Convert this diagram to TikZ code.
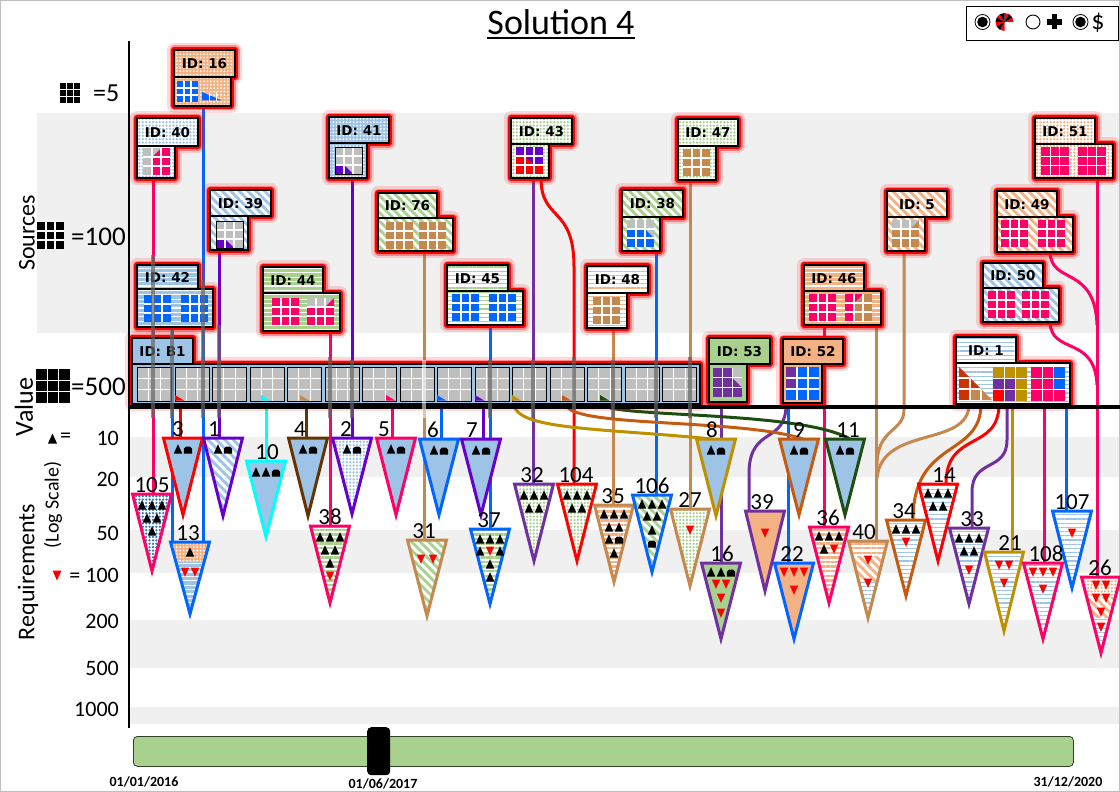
\documentclass[tikz,border=0pt]{standalone}
\usepackage{fontspec}
\setmainfont{Carlito}
\newfontfamily\idfont{DejaVu Sans}
\usetikzlibrary{patterns.meta}
\definecolor{cLB}{HTML}{9DC3E6}
\definecolor{cDB}{HTML}{2E75B6}
\definecolor{cBlue}{HTML}{0066FF}
\definecolor{cPink}{HTML}{FF0066}
\definecolor{cRed}{HTML}{FF0000}
\definecolor{cPurp}{HTML}{6600CC}
\definecolor{cPurp2}{HTML}{7030A0}
\definecolor{cCyan}{HTML}{00FFFF}
\definecolor{cBrD}{HTML}{663300}
\definecolor{cTan}{HTML}{C5884F}
\definecolor{cOlive}{HTML}{BF9000}
\definecolor{cOR}{HTML}{C55A11}
\definecolor{cOR2}{HTML}{CC3300}
\definecolor{cDG}{HTML}{1E4E0F}
\definecolor{cGr}{HTML}{A9D18E}
\definecolor{cOr}{HTML}{F4B183}
\definecolor{cGray}{HTML}{BFBFBF}
\definecolor{cBand}{HTML}{F0F0F0}
\newcommand\fs[1]{\fontsize{#1}{#1}\selectfont}
% grid helpers: x y size [col row] color
\newcommand\gbase[4]{\fill[#4] (#1,#2) rectangle ++(#3,#3);}
\newcommand\glines[3]{\draw[white,line width=1.1pt] ({#1+#3/3},#2) -- ++(0,#3) ({#1+2*#3/3},#2) -- ++(0,#3) (#1,{#2+#3/3}) -- ++(#3,0) (#1,{#2+2*#3/3}) -- ++(#3,0);}
\newcommand\gcell[6]{\fill[#6] ({#1+#4*#3/3},{#2+#5*#3/3}) rectangle ++({#3/3},{#3/3});}
\newcommand\gLL[6]{\fill[#6] ({#1+#4*#3/3},{#2+#5*#3/3}) -- ({#1+#4*#3/3},{#2+(#5+1)*#3/3}) -- ({#1+(#4+1)*#3/3},{#2+(#5+1)*#3/3}) -- cycle;}
\newcommand\gUR[6]{\fill[#6] ({#1+#4*#3/3},{#2+#5*#3/3}) -- ({#1+(#4+1)*#3/3},{#2+#5*#3/3}) -- ({#1+(#4+1)*#3/3},{#2+(#5+1)*#3/3}) -- cycle;}
\newcommand\gUL[6]{\fill[#6] ({#1+#4*#3/3},{#2+#5*#3/3}) -- ({#1+(#4+1)*#3/3},{#2+#5*#3/3}) -- ({#1+#4*#3/3},{#2+(#5+1)*#3/3}) -- cycle;}
\newcommand\gLR[6]{\fill[#6] ({#1+(#4+1)*#3/3},{#2+#5*#3/3}) -- ({#1+(#4+1)*#3/3},{#2+(#5+1)*#3/3}) -- ({#1+#4*#3/3},{#2+(#5+1)*#3/3}) -- cycle;}
\newcommand\ggrid[4]{\gbase{#1}{#2}{#3}{#4}\glines{#1}{#2}{#3}}
% source box: name x y tabw tabh contw conth fill label
\newcommand\src[9]{%
 \path[glow] (#2,#3) rectangle ++(#4,#5) (#2,{#3+#5}) rectangle ++(#6,#7);
 \path[#8] (#2,{#3+#5}) rectangle ++(#6,#7);
 \draw[line width=1.1pt] (#2,{#3+#5}) rectangle ++(#6,#7);
 \path[#8] (#2,#3) rectangle ++(#4,#5);
 \draw[line width=1.1pt] (#2,#3) rectangle ++(#4,#5);
 \node[idl] (#1) at ({#2+#4/2},{#3+#5/2+0.5}) {ID: #9};}
% requirement triangle: cx top apex border fill
\newcommand\req[5]{%
 \path[#5] ({#1-19.5},#2) -- ({#1+19.5},#2) -- (#1,{#3-4}) -- cycle;
 \draw[#4,line width=3pt,line join=miter] ({#1-19.5},#2) -- ({#1+19.5},#2) -- (#1,{#3-4}) -- cycle;
 \def\cx{#1}\def\ty{#2}}
\newcommand\mU[2]{\fill[black] ({\cx+#1-4.2},{\ty+#2+4.5}) -- ({\cx+#1+4.2},{\ty+#2+4.5}) -- ({\cx+#1},{\ty+#2-4.8}) -- cycle;}
\newcommand\mD[2]{\fill[cRed] ({\cx+#1-4.2},{\ty+#2-4.5}) -- ({\cx+#1+4.2},{\ty+#2-4.5}) -- ({\cx+#1},{\ty+#2+4.8}) -- cycle;}
\newcommand\mH[2]{\fill[black] ({\cx+#1-4.2},{\ty+#2+4.5}) -- ({\cx+#1-4.2},{\ty+#2}) -- ({\cx+#1-2},{\ty+#2-2.5}) -- ({\cx+#1+2},{\ty+#2-2.5}) -- ({\cx+#1+4.2},{\ty+#2}) -- ({\cx+#1+4.2},{\ty+#2+4.5}) -- cycle;}
\newcommand\UUU[1]{\mU{-10}{#1}\mU{0}{#1}\mU{10}{#1}}
\newcommand\UU[1]{\mU{-5}{#1}\mU{5}{#1}}
\newcommand\UH[1]{\mU{-5}{#1}\mH{5}{#1}}
\newcommand\DDD[1]{\mD{-10}{#1}\mD{0}{#1}\mD{10}{#1}}
\newcommand\DD[1]{\mD{-5}{#1}\mD{5}{#1}}
\newcommand\lab[4]{\node[numl] (#1) at (#2,{#3-1.5}) {#4};}
\tikzset{
  glow/.style={preaction={draw=red,line width=14pt,opacity=.15,line join=round},preaction={draw=red,line width=9pt,opacity=.35,line join=round},preaction={draw=red,line width=5.5pt,line join=round}},
  pdots/.style={fill=#1,postaction={pattern={Dots[radius=1pt,distance=3.4pt]},pattern color=white}},
  pdotsW/.style={fill=white,postaction={pattern={Dots[radius=1.25pt,distance=3.4pt]},pattern color=#1}},
  pdiag/.style={fill=white,postaction={pattern={Lines[angle=-45,distance=6pt,line width=2.8pt]},pattern color=#1}},
  phz/.style={fill=white,postaction={pattern={Lines[angle=0,distance=4.6pt,line width=2.3pt]},pattern color=#1}},
  phzA/.style={fill=#1,postaction={pattern={Lines[angle=0,distance=4.4pt,line width=1.1pt]},pattern color=white}},
  phzB/.style={fill=white,postaction={pattern={Lines[angle=0,distance=4.2pt,line width=1.2pt]},pattern color=#1}},
  cn/.style={line width=3pt},
  gbar/.style={line width=4.5pt,draw=black!60,opacity=.7},
  idl/.style={font=\idfont\bfseries\fs{13.5},inner sep=0},
  numl/.style={font=\fs{23},inner sep=0,anchor=base},
  ax/.style={font=\fs{22},inner sep=0},
}
\begin{document}
\begin{tikzpicture}[x=1pt,y=-1pt]
\useasboundingbox (0,0) rectangle (1120,792);
\fill[white] (0,0) rectangle (1120,792);
\fill[cBand] (37,113) rectangle (1120,333);
\foreach \a/\b in {437/477,530/573,620/668,707/724} \fill[cBand] (130,\a) rectangle (1120,\b);
\draw[black!25,line width=1pt] (0.5,0.5) rectangle (1119.5,791.5);

% title and legend
\node[font=\fs{36},inner sep=0] (title) at (561,22) {Solution 4};
\draw[line width=1.8pt] ([yshift=-4pt]title.base west) -- ([yshift=-4pt]title.base east);
\node[draw,line width=1.2pt,minimum width=152,minimum height=34,anchor=north west,inner sep=0] (legend) at (966,6) {};
\draw[line width=.8pt] (982.5,22) circle (7.5); \fill (982.5,22) circle (5.3);
\begin{scope}[shift={(1004.5,22)},yscale=-1]
\foreach \a in {0,60,...,240} \fill[red] (0,0) -- (\a:9) arc[start angle=\a,end angle=\a+30,radius=9] -- cycle;
\foreach \a in {30,90,...,210} \fill[black] (0,0) -- (\a:9) arc[start angle=\a,end angle=\a+30,radius=9] -- cycle;
\end{scope}
\draw[line width=.9pt] (1033,22) circle (7);
\fill (1047,19.3) rectangle (1062,24.7); \fill (1051.8,14.5) rectangle (1057.2,29.5);
\draw[line width=.8pt] (1080.5,22) circle (7.5); \fill (1080.5,22) circle (5.3);
\node[font=\fs{26},inner sep=0] (dollar) at (1098,23) {\$};

% left side labels
\node[rotate=90,font=\fs{24}] (lsrc) at (27,233) {Sources};
\node[rotate=90,font=\fs{26}] (lval) at (24,407) {Value};
\node[rotate=90,font=\fs{24}] (lreq) at (28,572) {Requirements};
\node[rotate=90,font=\fs{20}] (llog) at (53,505) {(Log Scale)};
\ggrid{60}{83}{20}{black}
\node[font=\fs{26},anchor=west,inner sep=0] (l5) at (93,93) {=5};
\ggrid{37}{222}{27}{black}
\node[font=\fs{27},anchor=west,inner sep=0] (l100) at (71,237) {=100};
\ggrid{36}{369}{34}{black}
\node[font=\fs{27},anchor=west,inner sep=0] (l500) at (71,387) {=500};
\fill (48,443.5) -- (57,443.5) -- (52.5,433.5) -- cycle;
\node[ax,anchor=west] (leq) at (60,438) {=};
\node[ax,anchor=east] (k10) at (119,438) {10};
\node[ax,anchor=east] (k20) at (119,479) {20};
\node[ax,anchor=east] (k50) at (119,533) {50};
\fill[cRed] (52.5,570.5) -- (61.5,570.5) -- (57,580.5) -- cycle;
\node[ax,anchor=east] (k100) at (119,575) {= 100};
\node[ax,anchor=east] (k200) at (119,621) {200};
\node[ax,anchor=east] (k500) at (119,668) {500};
\node[ax,anchor=east] (k1000) at (119,709) {1000};

% coordinates of requirement tops
\coordinate (t105) at (152,494); \coordinate (t3) at (183,438); \coordinate (t13) at (190,542);
\coordinate (t1) at (223,438); \coordinate (t10) at (266,461); \coordinate (t4) at (308,438);
\coordinate (t2) at (352,438); \coordinate (t5) at (396,438); \coordinate (t38) at (330,526);
\coordinate (t6) at (439,439); \coordinate (t7) at (481,439); \coordinate (t31) at (427,540);
\coordinate (t37) at (490,529); \coordinate (t32) at (534,484); \coordinate (t104) at (577,484);
\coordinate (t35) at (614,505); \coordinate (t106) at (652,495); \coordinate (t27) at (690,509);
\coordinate (t8) at (712,439); \coordinate (t16) at (721,563); \coordinate (t39) at (749,511);
\coordinate (t9) at (803,439); \coordinate (t11) at (850,439); \coordinate (t22) at (794,563);
\coordinate (t36) at (829,527); \coordinate (t40) at (868,541); \coordinate (t34) at (913,520);
\coordinate (t14) at (946,484); \coordinate (t33) at (972,528); \coordinate (t21) at (1004,552);
\coordinate (t108) at (1043,563); \coordinate (t107) at (1072,511); \coordinate (t26) at (1101,577);
% source outputs
\coordinate (o40) at (153,178); \coordinate (o42) at (172,327); \coordinate (o16) at (203,106);
\coordinate (o39) at (219,250); \coordinate (o41) at (352,178); \coordinate (o44) at (330,331);
\coordinate (o76) at (424,251); \coordinate (o45) at (490,325); \coordinate (o43a) at (533,178);
\coordinate (o43b) at (541,178); \coordinate (k104) at (574,267); \coordinate (o48) at (613,328);
\coordinate (o38) at (656,251); \coordinate (o47) at (690,180); \coordinate (o53) at (721,402);
\coordinate (o52a) at (788,403); \coordinate (o52b) at (786,403); \coordinate (o46a) at (824,325);
\coordinate (o46b) at (876,325); \coordinate (o5) at (904,251); \coordinate (k5) at (904,410);
\coordinate (m40) at (877,465); \coordinate (m40b) at (877,478);
\coordinate (o1a) at (969,404); \coordinate (o1b) at (981,404); \coordinate (o1c) at (999,404);
\coordinate (o1d) at (1007,404); \coordinate (o1e) at (1012,404); \coordinate (o1f) at (1044,404);
\coordinate (o1g) at (1066,404); \coordinate (o51) at (1097,178); \coordinate (o49) at (1050,252);
\coordinate (o50) at (1050,322); \coordinate (j49) at (1097,325); \coordinate (j50) at (1097,385);
\coordinate (b3) at (180,404); \coordinate (b10) at (266,404); \coordinate (b4) at (306,404);
\coordinate (b5) at (392,404); \coordinate (b6) at (441,404); \coordinate (b7) at (483,404);
\coordinate (b8) at (514,404); \coordinate (b9) at (566,404); \coordinate (b11) at (603,404);

% connectors
\draw[cn,cPink] (o40) -- (o40 |- t105);
\draw[cn,cBlue] (o42) -- (o42 |- t13);
\draw[cn,cBlue] (o16) -- (o16 |- t13);
\draw[cn,cPurp] (o39) -- (o39 |- t1);
\draw[cn,cPurp] (o41) -- (o41 |- t2);
\draw[cn,cPink] (o44) -- (o44 |- t38);
\draw[cn,cTan] (o76) -- (o76 |- t31);
\draw[cn,cBlue] (o45) -- (o45 |- t37);
\draw[cn,cPurp2] (o43a) -- (o43a |- t32);
\draw[cn,cRed] (o43b) .. controls (541,222) and (574,205) .. (k104) -- (k104 |- t104);
\draw[cn,cTan] (o48) -- (o48 |- t35);
\draw[cn,cBlue] (o38) -- (o38 |- t106);
\draw[cn,cTan] (o47) -- (o47 |- t27);
\draw[cn,cPurp2] (o53) -- (o53 |- t16);
\draw[cn,cBlue] (o52a) -- (o52a |- t22);
\draw[cn,cPurp2] (o52b) .. controls (787,445) and (750,425) .. (749,472) -- (t39);
\draw[cn,cPink] (o46a) -- (o46a |- t36);
\draw[cn,cTan] (o46b) -- (o46b |- t40);
\draw[cn,cTan] (o5) -- (k5) .. controls (904,432) and (877,428) .. (m40);
\draw[cn,cTan] (o1a) .. controls (969,448) and (882,425) .. (m40b);
\draw[cn,cOR] (o1b) .. controls (981,458) and (913,438) .. (t34);
\draw[cn,cRed] (o1c) .. controls (999,452) and (946,430) .. (t14);
\draw[cn,cPurp2] (o1d) -- (1007,440) .. controls (1007,472) and (972,458) .. (972,492) -- (t33);
\draw[cn,cOlive] (o1e) -- (o1e |- t21);
\draw[cn,cPink] (o1f) -- (o1f |- t108);
\draw[cn,cBlue] (o1g) -- (o1g |- t107);
\draw[cn,cPink] (o51) -- (o51 |- t26);
\draw[cn,cPink] (o49) .. controls (1051,285) and (1095,265) .. (j49);
\draw[cn,cPink] (o50) .. controls (1051,355) and (1095,335) .. (j50);
\draw[cn,cRed] (b3) -- (b3 |- t3);
\draw[cn,cCyan] (b10) -- (b10 |- t10);
\draw[cn,cBrD] (b4) -- (b4 |- t4);
\draw[cn,cPink] (b5) -- (b5 |- t5);
\draw[cn,cBlue] (b6) -- (b6 |- t6);
\draw[cn,cPurp] (b7) -- (b7 |- t7);
\draw[cn,cOlive] (b8) .. controls (516,430) and (600,428) .. (t8);
\draw[cn,cOR] (b9) .. controls (568,428) and (740,418) .. (t9);
\draw[cn,cDG] (b11) .. controls (606,418) and (800,410) .. (t11);

% requirement triangles
\req{152}{494}{575}{cPink}{pdotsW=cDB} \UUU{11}\UU{24}\mU{0}{37}
\req{183}{438}{519}{cRed}{fill=cLB} \UH{11}
\req{223}{438}{520}{cPurp}{pdiag=cLB} \UH{11}
\req{266}{461}{541}{cCyan}{fill=cLB} \mU{-10}{11}\mU{0}{11}\mH{10}{11}
\req{308}{438}{520}{cBrD}{fill=cLB} \UH{11}
\req{352}{438}{518}{cPurp}{pdotsW=cLB} \UH{11}
\req{396}{438}{519}{cPink}{fill=cLB} \UH{11}
\req{330}{526}{607}{cPink}{phz=cGr} \UUU{11}\UU{24}\mU{0}{37}\mD{0}{50}
\begin{scope}\clip (170.5,542) -- (209.5,542) -- (190,614) -- cycle;
\path[pdots=cOr] (160,542) rectangle (220,562);
\path[phzA=cLB] (160,562) rectangle (220,620);
\end{scope}
\req{190}{542}{618}{cBlue}{fill=none} \mU{0}{10}\DD{30}
\req{439}{439}{519}{cBlue}{fill=cLB} \UH{11}
\req{481}{439}{519}{cPurp}{fill=cLB} \UH{11}
\req{427}{540}{620}{cTan}{pdiag=cGr} \mD{-6}{19}\mD{6}{19}
\req{490}{529}{608}{cBlue}{phz=cGr} \UUU{10}\mU{-10}{22}\mD{0}{22}\mU{10}{22}\mU{0}{35}\mU{0}{48}
\req{534}{484}{565}{cPurp2}{pdotsW=cGr} \UUU{11}\UU{24}
\req{577}{484}{565}{cRed}{pdotsW=cGr} \UUU{11}\UU{24}
\req{614}{505}{586}{cTan}{phz=cOr} \UUU{9}\UU{22}\UH{34}\mU{0}{48}
\req{652}{495}{576}{cBlue}{pdiag=cGr} \UUU{9}\UU{21}\mU{0}{35}\mH{0}{48}
\req{690}{509}{590}{cTan}{pdotsW=cGr} \mD{0}{21}
\req{716}{439}{520}{cOlive}{fill=cLB} \UH{11}
\req{721}{563}{643}{cPurp2}{fill=cGr} \mU{-10}{9}\mU{0}{9}\mH{10}{9}\DD{21}\mD{0}{35}\mD{0}{50}
\req{765}{511}{595}{cPurp2}{fill=cOr} \mD{0}{22}
\req{799}{439}{519}{cOR}{fill=cLB} \UH{11}
\req{845}{439}{519}{cDG}{fill=cLB} \UH{11}
\req{794}{563}{643}{cBlue}{fill=cOr} \DDD{9}\mD{0}{27}
\req{829}{527}{607}{cPink}{phz=cOr} \UUU{9}\mU{-5}{22}\mD{5}{22}
\begin{scope}\clip (848.5,541) -- (887.5,541) -- (868,618) -- cycle;
\path[phz=cOr] (840,541) rectangle (900,556);
\path[pdiag=cOr] (840,556) rectangle (900,582);
\path[phzB=cLB] (840,582) rectangle (900,625);
\end{scope}
\req{868}{541}{622}{cTan}{fill=none} \mD{0}{19}\mD{0}{42}
\req{906}{520}{600}{cOR}{phzB=cLB} \UUU{9}\mD{0}{22}
\req{938}{484}{565}{cRed}{phzB=cLB} \UUU{9}\UU{22}
\req{969}{528}{608}{cPurp2}{phzB=cLB} \UUU{10}\UU{23}\mD{0}{42}
\req{1004}{552}{635}{cOlive}{phzB=cLB} \DD{13}\mD{0}{31}
\req{1043}{563}{643}{cPink}{phzB=cLB} \DDD{9}\mD{0}{26}
\req{1072}{511}{592}{cBlue}{phzB=cLB} \mD{0}{22}
\begin{scope}\clip (1081.5,577) -- (1120.5,577) -- (1101,653) -- cycle;
\path[pdotsW=cOr] (1075,577) rectangle (1125,597);
\path[pdiag=cOr] (1075,597) rectangle (1125,618);
\path[phzB=cLB] (1075,618) rectangle (1125,660);
\end{scope}
\req{1101}{577}{657}{cPink}{fill=none} \DD{8}\DD{21}\mD{0}{35}\mD{0}{50}

% sources
\src{s16}{174}{50}{61}{27}{57}{29}{pdots=cOr}{16}
\ggrid{177}{81}{21}{cBlue}
\fill[cBlue] (202,92) -- (202,100.5) -- (222,100.5) -- cycle;
\draw[white,line width=.8pt] (209,92) -- (209,101) (216,92) -- (216,101);

\src{s40}{137}{118}{61}{28}{38}{32}{pdotsW=cLB}{40}
\gbase{143}{148}{27}{cPink}
\foreach \r in {0,1,2}{\gcell{143}{148}{27}{0}{\r}{cGray}}
\gUL{143}{148}{27}{1}{0}{cGray}
\glines{143}{148}{27}

\src{s39}{210}{190}{61}{26}{38}{34}{pdiag=cLB}{39}
\gbase{216}{221}{27}{cGray}\gcell{216}{221}{27}{0}{2}{cPurp}\gLL{216}{221}{27}{1}{2}{cPurp}\glines{216}{221}{27}
\draw[line width=.7pt] (216,221) rectangle ++(27,27);

\src{s41}{329}{117}{60}{26}{38}{35}{pdots=cLB}{41}
\gbase{335}{147}{27}{cGray}\gcell{335}{147}{27}{0}{2}{cPurp}\gLL{335}{147}{27}{1}{2}{cPurp}\glines{335}{147}{27}
\draw[line width=.7pt] (335,147) rectangle ++(27,27);

\src{s76}{378}{193}{59}{25}{75}{33}{pdiag=cGr}{76}
\ggrid{386}{222}{27}{cTan}\ggrid{419}{222}{27}{cTan}

\src{s42}{137}{265}{61}{24}{76}{38}{phzA=cLB}{42}
\ggrid{144}{295}{27}{cBlue}\ggrid{181}{295}{27}{cBlue}

\src{s44}{263}{267}{60}{26}{77}{38}{phzA=cGr}{44}
\ggrid{272}{298}{27}{cPink}
\gbase{307}{298}{27}{cPink}\gcell{307}{298}{27}{0}{0}{cGray}\gcell{307}{298}{27}{1}{0}{cGray}\gcell{307}{298}{27}{2}{0}{cGray}\gLR{307}{298}{27}{2}{0}{cPink}\glines{307}{298}{27}

\src{s45}{447}{265}{61}{26}{76}{34}{phzB=cGr}{45}
\ggrid{452}{294}{27}{cBlue}\ggrid{489}{294}{27}{cBlue}

\src{s43}{511}{118}{61}{26}{38}{34}{pdotsW=cGr}{43}
\gbase{516}{147}{27}{cRed}\gcell{516}{147}{27}{0}{0}{cPurp}\gcell{516}{147}{27}{1}{0}{cPurp}\gcell{516}{147}{27}{2}{0}{cPurp}\gcell{516}{147}{27}{2}{1}{cPurp}\gUR{516}{147}{27}{1}{1}{cPurp}\glines{516}{147}{27}

\src{s48}{587}{266}{61}{27}{40}{35}{phzB=cOr}{48}
\ggrid{593}{297}{27}{cTan}

\src{s38}{622}{190}{61}{27}{38}{34}{pdiag=cGr}{38}
\gbase{627}{220}{27}{cBlue}\gcell{627}{220}{27}{0}{0}{cGray}\gcell{627}{220}{27}{1}{0}{cGray}\gcell{627}{220}{27}{2}{0}{cGray}\gUR{627}{220}{27}{2}{1}{cGray}\glines{627}{220}{27}

\src{s47}{678}{119}{60}{27}{38}{34}{pdotsW=cGr}{47}
\ggrid{683}{149}{27}{cTan}

\src{s5}{887}{191}{60}{26}{38}{34}{pdiag=cOr}{5}
\gbase{892}{220}{27}{cTan}\gcell{892}{220}{27}{0}{0}{cGray}\gcell{892}{220}{27}{1}{0}{cGray}\gUL{892}{220}{27}{2}{0}{cGray}\glines{892}{220}{27}

\src{s46}{804}{265}{60}{26}{77}{34}{phzA=cOr}{46}
\ggrid{809}{294}{27}{cPink}
\gbase{845}{294}{27}{cTan}\foreach \r in {0,1,2}{\gcell{845}{294}{27}{0}{\r}{cPink}}\gUL{845}{294}{27}{1}{0}{cPink}\glines{845}{294}{27}

\src{s51}{1035}{118}{60}{26}{78}{34}{pdotsW=cOr}{51}
\ggrid{1041}{147}{28}{cPink}\ggrid{1078}{147}{28}{cPink}

\src{s49}{997}{191}{60}{26}{76}{35}{pdiag=cOr}{49}
\ggrid{1001}{220}{27}{cPink}\ggrid{1038}{220}{27}{cPink}

\src{s50}{983}{263}{60}{25}{76}{34}{pdiag=cLB}{50}
\ggrid{988}{291}{27}{cPink}\ggrid{1022}{291}{27}{cPink}

\src{sB1}{132}{338}{61}{26}{568}{40}{fill=cLB}{B1}
\foreach \i in {0,...,14}{
  \pgfmathsetmacro\gx{137.5+37.5*\i}
  \ggrid{\gx}{367}{34}{cGray}
  \draw[line width=.8pt] (\gx,367) rectangle ++(34,34);
}
\foreach \p/\c in {175/cRed,261/cCyan,300/cTan,386/cPink,437/cBlue,475/cPurp,512/cOlive,562/cOR,600/cDG}
  \fill[\c] (\p,395) -- (\p,400.5) -- ({\p+9},400.5) -- cycle;

\src{s53}{709}{338}{61}{26}{38}{38}{fill=cGr}{53}
\gbase{713}{368}{29}{cPurp2}\gcell{713}{368}{29}{2}{0}{cGray}\gUR{713}{368}{29}{2}{1}{cGray}\glines{713}{368}{29}

\src{s52}{783}{339}{60}{25}{39}{39}{fill=cOr}{52}
\gbase{786}{367}{33}{cBlue}\gcell{786}{367}{33}{0}{0}{cPurp2}\gcell{786}{367}{33}{0}{1}{cPurp2}\glines{786}{367}{33}

\src{s1}{956}{337}{60}{26}{114}{41}{phzB=cLB}{1}
\gLL{959}{367}{33}{0}{0}{cOR2}\gcell{959}{367}{33}{0}{1}{cOR2}\gLL{959}{367}{33}{1}{1}{cOR2}\gcell{959}{367}{33}{0}{2}{cOR2}\gcell{959}{367}{33}{1}{2}{cTan}\gLL{959}{367}{33}{2}{2}{cTan}
\begin{scope}\clip (959,367) -- (959,400) -- (992,400) -- cycle; \glines{959}{367}{33}\end{scope}
\gbase{993}{367}{34}{cOlive}\gcell{993}{367}{34}{0}{1}{cPurp2}\gcell{993}{367}{34}{1}{1}{cPurp2}\gcell{993}{367}{34}{0}{2}{cRed}\gcell{993}{367}{34}{1}{2}{cPurp2}\glines{993}{367}{34}
\gbase{1031}{367}{34}{cPink}\gcell{1031}{367}{34}{2}{0}{cBlue}\gcell{1031}{367}{34}{2}{1}{cBlue}\glines{1031}{367}{34}

% axes
\draw[line width=2.2pt] (129,41) -- (129,728);
\draw[line width=4pt] (129,407) -- (1120,407);

% translucent crossings
\foreach \x/\a/\b in {153/255/418,172/330/418,203/280/418,219/325/418,330/357/418,352/360/418,490/360/418,533/360/418,574/357/410,613/360/418,656/360/418,690/357/418}
  \draw[gbar] (\x,\a) -- (\x,\b);
\draw[line width=4.5pt,white,opacity=.55] (424,360) -- (424,418);

% requirement labels
\lab{L105}{152}{494}{105} \lab{L3}{178}{438}{3} \lab{L13}{188}{542}{13} \lab{L1}{214}{438}{1}
\lab{L10}{267}{461}{10} \lab{L4}{300}{438}{4} \lab{L2}{346}{438}{2} \lab{L5}{384}{438}{5}
\lab{L38}{330}{526}{38} \lab{L6}{433}{439}{6} \lab{L7}{472}{439}{7} \lab{L31}{424}{540}{31}
\lab{L37}{489}{529}{37} \lab{L32}{532}{484}{32} \lab{L104}{576}{484}{104} \lab{L35}{613}{505}{35}
\lab{L106}{652}{495}{106} \lab{L27}{690}{509}{27} \lab{L8}{712}{439}{8} \lab{L16}{722}{563}{16}
\lab{L39}{762}{511}{39} \lab{L9}{799}{439}{9} \lab{L11}{848}{439}{11} \lab{L22}{792}{563}{22}
\lab{L36}{828}{527}{36} \lab{L40}{864}{541}{40} \lab{L34}{904}{520}{34} \lab{L14}{944}{484}{14}
\lab{L33}{972}{528}{33} \lab{L21}{1010}{552}{21} \lab{L108}{1046}{563}{108} \lab{L107}{1072}{511}{107}
\lab{L26}{1100}{577}{26}

% time slider
\node[draw=black!70!cGr,line width=.8pt,fill=cGr,rounded corners=4pt,minimum width=940,minimum height=30,anchor=north west,inner sep=0] (slider) at (133,736) {};
\node[fill=black,rounded corners=4pt,minimum width=23,minimum height=48,anchor=north west,inner sep=0] (handle) at (367,727) {};
\node[font=\bfseries\fs{14},inner sep=0] (d1) at (144,782) {01/01/2016};
\node[font=\bfseries\fs{14},inner sep=0] (d2) at (383,784) {01/06/2017};
\node[font=\bfseries\fs{14},inner sep=0] (d3) at (1068,782) {31/12/2020};
\end{tikzpicture}
\end{document}
